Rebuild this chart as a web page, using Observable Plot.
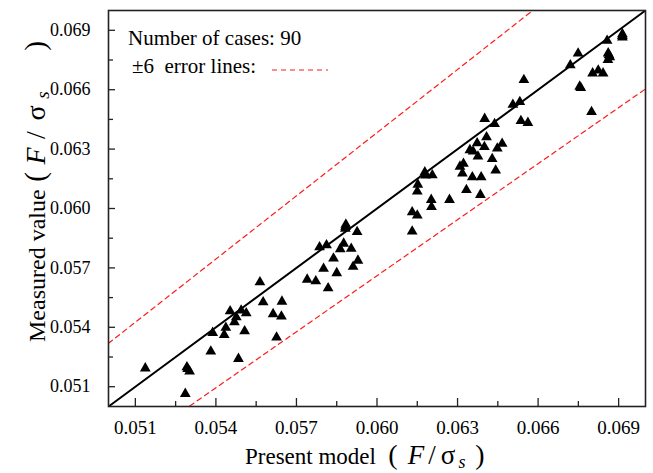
<!DOCTYPE html>
<html>
<head>
<meta charset="utf-8">
<script src="https://cdn.jsdelivr.net/npm/d3@7"></script>
<script src="https://cdn.jsdelivr.net/npm/@observablehq/plot@0.6"></script>
<style>
  html, body { margin: 0; padding: 0; background: #fff; }
  #chart { width: 653px; height: 473px; }
  #chart svg text { fill: #000; font-family: "Liberation Serif", "Times New Roman", serif !important; }
</style>
</head>
<body>
<div id="chart"></div>
<script>
// ---- data ----
const presentModel = [
  0.05137,0.05286,0.05292,0.05302,0.05381,0.05388,0.05431,0.05437,0.05453,0.05469,0.05476,0.05494,0.05513,0.05507,0.05484,0.05295,
  0.05564,0.05576,0.05613,0.05626,0.05646,0.05644,0.05740,0.05772,0.05786,0.05801,0.05812,0.05818,0.05838,0.05850,0.05863,0.05876,0.05882,0.05884,0.05904,0.05911,0.05926,0.05929,0.05883,
  0.06131,0.06131,0.06150,0.06202,0.06203,0.06270,0.06152,0.06150,0.06178,0.06181,0.06206,0.06309,0.06322,0.06318,0.06333,0.06355,0.06388,0.06385,0.06442,0.06429,0.06346,0.06358,0.06376,0.06373,0.06400,0.06408,0.06448,0.06466,0.06401,0.06438,0.06506,0.06532,0.06536,0.06562,0.06547,
  0.06914,0.06914,0.06857,0.06749,0.06720,0.06861,0.06867,0.06860,0.06803,0.06824,0.06842,0.06755,0.06759,0.06799,0.06864,0.06914
];
const measuredValue = [
  0.05193,0.05064,0.05199,0.05177,0.05278,0.05372,0.05362,0.05398,0.05481,0.05426,0.05451,0.05485,0.05471,0.05380,0.05241,0.05190,
  0.05628,0.05527,0.05467,0.05349,0.05530,0.05455,0.05641,0.05633,0.05805,0.05696,0.05815,0.05598,0.05748,0.05674,0.05795,0.05823,0.05898,0.05919,0.05797,0.05706,0.05882,0.05737,0.05909,
  0.05884,0.05981,0.05965,0.06044,0.06008,0.06044,0.06121,0.06086,0.06183,0.06167,0.06168,0.06212,0.06226,0.06177,0.06094,0.06158,0.06158,0.06069,0.06192,0.06250,0.06295,0.06288,0.06263,0.06330,0.06311,0.06360,0.06303,0.06327,0.06453,0.06427,0.06524,0.06538,0.06442,0.06433,0.06649,
  0.06881,0.06864,0.06848,0.06783,0.06724,0.06784,0.06765,0.06750,0.06683,0.06697,0.06683,0.06616,0.06609,0.06488,0.06774,0.06872
];
const axisDomain = [0.050, 0.070];
const majorTicks = [0.051, 0.054, 0.057, 0.060, 0.063, 0.066, 0.069];
const minorTicks = [0.0525, 0.0555, 0.0585, 0.0615, 0.0645, 0.0675];
const errorPct = 0.06;
const numberOfCases = 90;
const xTitle = "Present model";
const yTitle = "Measured value";

// ---- derived tables ----
const points = presentModel.map((x, i) => ({x, y: measuredValue[i]}));
const perfect = axisDomain.map(x => ({x, y: x}));
const upperErr = axisDomain.map(x => ({x, y: x / (1 - errorPct)}));
const lowerErr = axisDomain.map(x => ({x, y: x / (1 + errorPct)}));

const W = 653, H = 473;
const mL = 108, mR = 8, mT = 10, mB = 67;
const pw = W - mL - mR, ph = H - mT - mB;
const fmt = d3.format(".3f");
const serif = "Liberation Serif, Times New Roman, serif";

const chart = Plot.plot({
  width: W, height: H,
  marginLeft: mL, marginRight: mR, marginTop: mT, marginBottom: mB,
  style: {fontFamily: serif, background: "#fff", color: "#000"},
  x: {domain: axisDomain},
  y: {domain: axisDomain},
  marks: [
    Plot.line(upperErr, {x: "x", y: "y", stroke: "#ff1a1a", strokeWidth: 1.2, strokeDasharray: "5,4", clip: true}),
    Plot.line(lowerErr, {x: "x", y: "y", stroke: "#ff1a1a", strokeWidth: 1.2, strokeDasharray: "5,4", clip: true}),
    Plot.line(perfect, {x: "x", y: "y", stroke: "#000", strokeWidth: 2, clip: true}),
    Plot.dot(points, {x: "x", y: "y", symbol: "triangle", r: 4, fill: "#000", stroke: "none"}),
    Plot.tickX(majorTicks, {x: d => d, insetTop: ph - 8, stroke: "#222", strokeWidth: 1.3}),
    Plot.tickX(minorTicks, {x: d => d, insetTop: ph - 5, stroke: "#222", strokeWidth: 1.3}),
    Plot.tickY(majorTicks, {y: d => d, insetRight: pw - 7, stroke: "#222", strokeWidth: 1.3}),
    Plot.tickY(minorTicks, {y: d => d, insetRight: pw - 5, stroke: "#222", strokeWidth: 1.3}),
    Plot.axisX({ticks: majorTicks, tickSize: 0, tickPadding: 14, tickFormat: fmt, fontSize: 19, label: null}),
    Plot.axisY({ticks: majorTicks, tickSize: 0, tickPadding: 18, tickFormat: fmt, fontSize: 18, label: null}),
    Plot.frame({stroke: "#222", strokeWidth: 1.6})
  ]
});
document.getElementById("chart").appendChild(chart);

// ---- titles and legend text ----
const svg = d3.select(chart);

// glyph centres (along the text direction) of the unit part "(F/σs)"
function unitTitle(g, lead, size, c) {
  g.append("tspan").attr("x", 0).style("text-anchor", "start").text(lead);
  const part = (x, t, opts = {}) => {
    const s = g.append("tspan").attr("x", x).style("text-anchor", "middle")
      .style("font-size", (opts.size || size) + "px").text(t);
    if (opts.italic) s.style("font-style", "italic");
    if (opts.dy != null) s.attr("dy", opts.dy);
    return s;
  };
  part(c[0], "(", {size: size + 1});
  part(c[1], "F", {italic: true});
  part(c[2], "/");
  part(c[3], "σ");
  part(c[4], "s", {italic: true, size: size - 9, dy: 4});
  part(c[5], ")", {size: size + 1, dy: -4});
}

const xt = svg.append("text")
  .attr("transform", "translate(245,464)")
  .style("font-size", "23px");
unitTitle(xt, xTitle, 27, [148, 171, 187, 203, 217, 235]);

const yt = svg.append("text")
  .attr("transform", "translate(45,342) rotate(-90)")
  .style("font-size", "24px");
unitTitle(yt, yTitle, 28, [165, 186, 207, 229, 247, 296]);

svg.append("text")
  .attr("x", 128).attr("y", 45)
  .style("text-anchor", "start")
  .style("font-size", "21px")
  .text(`Number of cases: ${numberOfCases}`);
svg.append("text")
  .attr("x", 132).attr("y", 73)
  .style("text-anchor", "start")
  .style("font-size", "21px")
  .text(`±${Math.round(errorPct * 100)}\u00a0 error lines:`);
svg.append("line")
  .attr("x1", 272).attr("x2", 328).attr("y1", 70).attr("y2", 70)
  .attr("stroke", "#ff1a1a").attr("stroke-width", 1.2).attr("stroke-dasharray", "5,4");
</script>
</body>
</html>
